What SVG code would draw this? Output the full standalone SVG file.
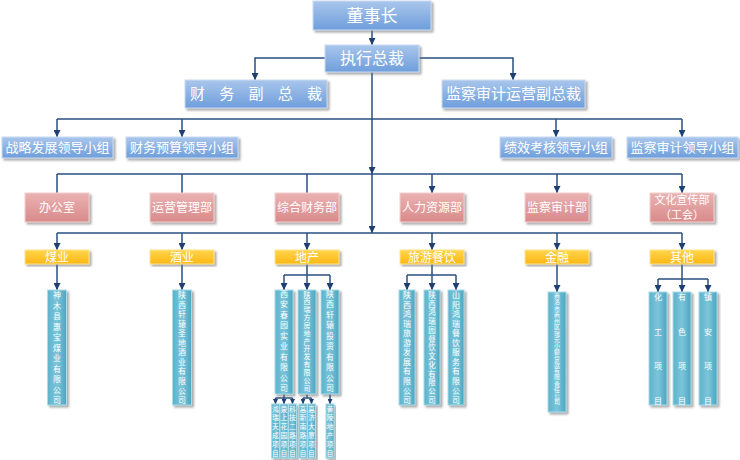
<svg xmlns="http://www.w3.org/2000/svg" width="740" height="460" viewBox="0 0 740 460">
<defs>
<linearGradient id="gB" x1="0" y1="0" x2="0" y2="1"><stop offset="0" stop-color="#a9c6ec"/><stop offset="1" stop-color="#6e9edb"/></linearGradient>
<linearGradient id="gP" x1="0" y1="0" x2="0" y2="1"><stop offset="0" stop-color="#eab2b2"/><stop offset="1" stop-color="#d98a8a"/></linearGradient>
<linearGradient id="gY" x1="0" y1="0" x2="0" y2="1"><stop offset="0" stop-color="#ffd54d"/><stop offset="1" stop-color="#fcb714"/></linearGradient>
<linearGradient id="gT" x1="0" y1="0" x2="1" y2="0"><stop offset="0" stop-color="#5db2cb"/><stop offset="0.5" stop-color="#7cc5da"/><stop offset="1" stop-color="#4aa6c2"/></linearGradient>
<filter id="sh" x="-20%" y="-20%" width="140%" height="140%"><feDropShadow dx="2" dy="2" stdDeviation="0.8" flood-color="#6f6f6f" flood-opacity="0.6"/></filter>
<marker id="ar" viewBox="0 0 8 8" refX="8" refY="4" markerWidth="7" markerHeight="7" markerUnits="userSpaceOnUse" orient="auto"><path d="M0,0 L8,4 L0,8 z" fill="#1f3f73"/></marker>
<marker id="as" viewBox="0 0 8 8" refX="8" refY="4" markerWidth="5" markerHeight="5" markerUnits="userSpaceOnUse" orient="auto"><path d="M0,0 L8,4 L0,8 z" fill="#1f3f73"/></marker>
</defs>
<style>
.b{fill:url(#gB);stroke:#c9dbf1;stroke-width:1;filter:url(#sh)}
.p{fill:url(#gP);stroke:#f3cfcf;stroke-width:1;filter:url(#sh)}
.y{fill:url(#gY);stroke:#ffe48f;stroke-width:1;filter:url(#sh)}
.t{fill:url(#gT);stroke:#a9dbe8;stroke-width:1;filter:url(#sh)}
text{fill:#ffffff;font-family:"Noto Sans CJK SC","Noto Sans",sans-serif;text-anchor:middle}
.c{stroke:#2a4f82;stroke-width:1.5;fill:none}
.a{marker-end:url(#ar)}
.s{marker-end:url(#as)}
.v8{font-size:8px}
.v7{font-size:7.5px}
.v6{font-size:6px}
.v7s{font-size:7px}
</style>

<g id="connectors">
<path class="c a" d="M372,30 V45"/>
<path class="c a" d="M325,58 H255 V80"/>
<path class="c a" d="M419,58 H513 V80"/>
<path class="c a" d="M372,72 V174"/>
<path class="c a" d="M372,174 V233"/>
<path class="c" d="M57,119 H682"/>
<path class="c a" d="M57,119 V137"/>
<path class="c a" d="M182,119 V137"/>
<path class="c a" d="M556,119 V137"/>
<path class="c a" d="M682,119 V137"/>
<path class="c" d="M57,174 H682"/>
<path class="c" d="M57,174 V193 M182,174 V193 M307,174 V193"/>
<path class="c a" d="M432,174 V193"/>
<path class="c a" d="M557,174 V193"/>
<path class="c a" d="M682,174 V193"/>
<path class="c" d="M57,233 H682"/>
<path class="c a" d="M57,233 V250"/>
<path class="c a" d="M182,233 V250"/>
<path class="c a" d="M307,233 V250"/>
<path class="c a" d="M432,233 V250"/>
<path class="c a" d="M557,233 V250"/>
<path class="c a" d="M682,233 V250"/>
<path class="c a" d="M57,264 V290"/>
<path class="c a" d="M182,264 V290"/>
<path class="c" d="M307,264 V275 M284,275 H330"/>
<path class="c a" d="M284,275 V290"/>
<path class="c a" d="M307,275 V290"/>
<path class="c a" d="M330,275 V290"/>
<path class="c" d="M432,264 V275 M407,275 H456"/>
<path class="c a" d="M407,275 V290"/>
<path class="c a" d="M432,275 V290"/>
<path class="c a" d="M456,275 V290"/>
<path class="c a" d="M557,264 V292"/>
<path class="c" d="M682,264 V279 M658,279 H708"/>
<path class="c a" d="M658,279 V292"/>
<path class="c a" d="M682,279 V292"/>
<path class="c a" d="M708,279 V292"/>
<path class="c" d="M284,394 V398 M275.5,398 H292.5"/>
<path class="c s" d="M275.5,398 V404"/>
<path class="c s" d="M284,398 V404"/>
<path class="c s" d="M292.5,398 V404"/>
<path class="c" d="M307,394 V398 M303,398 H311.5"/>
<path class="c s" d="M303,398 V404"/>
<path class="c s" d="M311.5,398 V404"/>
<path class="c s" d="M330,394 V404"/>
</g>

<g id="n-chairman"><rect class="b" x="313" y="1" width="118" height="29"/><text x="372" y="22" font-size="17">董事长</text></g>
<g id="n-ceo"><rect class="b" x="325" y="45" width="94" height="27"/><text x="372" y="64" font-size="16">执行总裁</text></g>
<g id="n-vp-fin"><rect class="b" x="185" y="80" width="142" height="28"/><text x="256" y="99" font-size="15" textLength="132" lengthAdjust="spacing">财 务 副 总 裁</text></g>
<g id="n-vp-audit"><rect class="b" x="442" y="80" width="143" height="28"/><text x="513.5" y="99" font-size="15">监察审计运营副总裁</text></g>

<g id="n-g1"><rect class="b" x="2" y="137" width="111" height="21"/><text x="57.5" y="152" font-size="13">战略发展领导小组</text></g>
<g id="n-g2"><rect class="b" x="126" y="137" width="112" height="21"/><text x="182" y="152" font-size="13">财务预算领导小组</text></g>
<g id="n-g3"><rect class="b" x="500" y="137" width="112" height="21"/><text x="556" y="152" font-size="13">绩效考核领导小组</text></g>
<g id="n-g4"><rect class="b" x="627" y="137" width="111" height="21"/><text x="682.5" y="152" font-size="13">监察审计领导小组</text></g>

<g id="n-d1"><rect class="p" x="25" y="193" width="64" height="29"/><text x="57" y="212" font-size="12">办公室</text></g>
<g id="n-d2"><rect class="p" x="150" y="193" width="64" height="29"/><text x="182" y="212" font-size="12">运营管理部</text></g>
<g id="n-d3"><rect class="p" x="275" y="193" width="64" height="29"/><text x="307" y="212" font-size="12">综合财务部</text></g>
<g id="n-d4"><rect class="p" x="400" y="193" width="64" height="29"/><text x="432" y="212" font-size="12">人力资源部</text></g>
<g id="n-d5"><rect class="p" x="525" y="193" width="64" height="29"/><text x="557" y="212" font-size="12">监察审计部</text></g>
<g id="n-d6"><rect class="p" x="650" y="193" width="64" height="29"/><text x="682" y="204" font-size="11">文化宣传部</text><text x="682" y="219" font-size="11">（工会）</text></g>

<g id="n-s1"><rect class="y" x="25" y="250" width="64" height="14"/><text x="57" y="261.5" font-size="12">煤业</text></g>
<g id="n-s2"><rect class="y" x="150" y="250" width="64" height="14"/><text x="182" y="261.5" font-size="12">酒业</text></g>
<g id="n-s3"><rect class="y" x="275" y="250" width="64" height="14"/><text x="307" y="261.5" font-size="12">地产</text></g>
<g id="n-s4"><rect class="y" x="400" y="250" width="64" height="14"/><text x="432" y="261.5" font-size="12">旅游餐饮</text></g>
<g id="n-s5"><rect class="y" x="525" y="250" width="64" height="14"/><text x="557" y="261.5" font-size="12">金融</text></g>
<g id="n-s6"><rect class="y" x="650" y="250" width="64" height="14"/><text x="682" y="261.5" font-size="12">其他</text></g>

<g id="n-c1"><rect class="t" x="47.5" y="290" width="19" height="115"/><text class="v8" x="57 57 57 57 57 57 57 57 57 57 57" y="298 308.5 319 329.5 340 350.5 361 371.5 382 392.5 403">神木县惠宝煤业有限公司</text></g>
<g id="n-c2"><rect class="t" x="172.5" y="290" width="19" height="115"/><text class="v8" x="182 182 182 182 182 182 182 182 182 182 182 182" y="298 307.5 317.1 326.6 336.2 345.7 355.3 364.8 374.4 383.9 393.5 403">陕西轩辕圣地酒业有限公司</text></g>
<g id="n-c3"><rect class="t" x="275" y="290" width="18" height="104"/><text class="v8" x="284 284 284 284 284 284 284 284 284 284" y="297 307.4 317.9 328.3 338.8 349.2 359.7 370.1 380.6 391">西安春园实业有限公司</text></g>
<g id="n-c4"><rect class="t" x="298" y="290" width="18" height="104"/><text class="v7s" x="307 307 307 307 307 307 307 307 307 307 307 307 307" y="296.6 304.4 312.3 320.1 327.9 335.8 343.6 351.4 359.3 367.1 374.9 382.8 390.6">陕西瑞方房地产开发有限公司</text></g>
<g id="n-c5"><rect class="t" x="321" y="290" width="18" height="104"/><text class="v8" x="330 330 330 330 330 330 330 330 330 330" y="297 307.4 317.9 328.3 338.8 349.2 359.7 370.1 380.6 391">陕西轩辕投资有限公司</text></g>
<g id="n-c6"><rect class="t" x="399" y="290" width="16" height="115"/><text class="v8" x="407 407 407 407 407 407 407 407 407 407 407 407" y="298 307.5 317.1 326.6 336.2 345.7 355.3 364.8 374.4 383.9 393.5 403">陕西鸿瑞旅游发展有限公司</text></g>
<g id="n-c7"><rect class="t" x="424" y="290" width="16" height="115"/><text class="v7" x="432 432 432 432 432 432 432 432 432 432 432 432 432" y="297.8 306.6 315.3 324.1 332.8 341.6 350.3 359.1 367.8 376.6 385.3 394.1 402.8">陕西鸿瑞园餐饮文化有限公司</text></g>
<g id="n-c8"><rect class="t" x="448" y="290" width="16" height="115"/><text class="v8" x="456 456 456 456 456 456 456 456 456 456 456 456" y="298 307.5 317.1 326.6 336.2 345.7 355.3 364.8 374.4 383.9 393.5 403">山阳鸿瑞餐饮服务有限公司</text></g>
<g id="n-c9"><rect class="t" x="548" y="292" width="18" height="120"/><text class="v6" x="557 557 557 557 557 557 557 557 557 557 557 557 557 557 557 557 557 557" y="298.2 304.4 310.7 316.9 323.1 329.4 335.6 341.8 348.1 354.3 360.6 366.8 373 379.3 385.5 391.7 398 404.2">商洛市商州区瑞元小额贷款有限责任公司</text></g>
<g id="n-c10"><rect class="t" x="649" y="292" width="18" height="113"/><text class="v8" x="658 658 658 658" y="300 334.5 369 403.5">化工项目</text></g>
<g id="n-c11"><rect class="t" x="673" y="292" width="18" height="113"/><text class="v8" x="682 682 682 682" y="300 334.5 369 403.5">有色项目</text></g>
<g id="n-c12"><rect class="t" x="699" y="292" width="18" height="113"/><text class="v8" x="708 708 708 708" y="300 334.5 369 403.5">镇安项目</text></g>

<g id="n-p1"><rect class="t" x="271.5" y="404" width="8" height="54"/><text class="v7s" x="275.5 275.5 275.5 275.5 275.5 275.5" y="411.5 420.3 429.1 437.9 446.7 455.5">鸿瑞天成项目</text></g>
<g id="n-p2"><rect class="t" x="280" y="404" width="8" height="54"/><text class="v7s" x="284 284 284 284 284 284" y="411.5 420.3 429.1 437.9 446.7 455.5">泉上花园项目</text></g>
<g id="n-p3"><rect class="t" x="288.5" y="404" width="8" height="54"/><text class="v7s" x="292.5 292.5 292.5 292.5 292.5 292.5" y="411.5 420.3 429.1 437.9 446.7 455.5">科技二路项目</text></g>
<g id="n-p4"><rect class="t" x="299" y="404" width="8" height="54"/><text class="v7s" x="303 303 303 303 303 303" y="411.5 420.3 429.1 437.9 446.7 455.5">高新南路项目</text></g>
<g id="n-p5"><rect class="t" x="307.5" y="404" width="8" height="54"/><text class="v7s" x="311.5 311.5 311.5 311.5 311.5 311.5" y="411.5 420.3 429.1 437.9 446.7 455.5">高济大厦项目</text></g>
<g id="n-p6"><rect class="t" x="326" y="404" width="8" height="54"/><text class="v7s" x="330 330 330 330 330 330" y="411.5 420.3 429.1 437.9 446.7 455.5">黄陵地产项目</text></g>
</svg>
